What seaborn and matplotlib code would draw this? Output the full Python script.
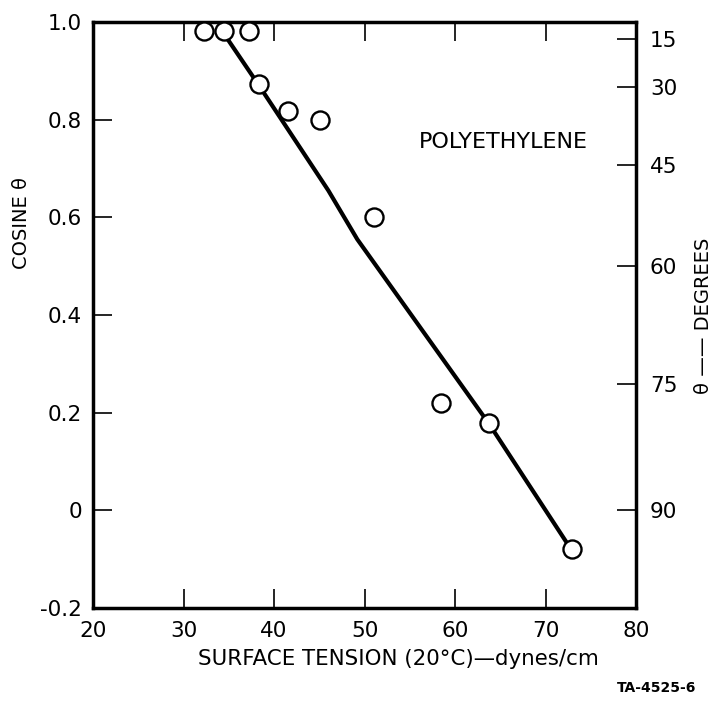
import numpy as np
import pandas as pd
import matplotlib
matplotlib.use("Agg")
import matplotlib.pyplot as plt
import seaborn as sns

# ---- data ----
pts_tension = [32.3, 34.5, 37.2, 38.3, 41.6, 45.1, 51.0, 58.5, 63.8, 72.9]
pts_cosine = [0.982, 0.982, 0.982, 0.873, 0.818, 0.800, 0.600, 0.220, 0.178, -0.080]

line_tension = [34.5, 38.3, 46.0, 49.2, 63.8, 72.9]
line_cosine = [0.975, 0.871, 0.655, 0.555, 0.176, -0.082]

x_ticks = [20, 30, 40, 50, 60, 70, 80]
y_ticks = [-0.2, 0, 0.2, 0.4, 0.6, 0.8, 1.0]
y_ticklabels = ["-0.2", "0", "0.2", "0.4", "0.6", "0.8", "1.0"]
degree_ticks = [15, 30, 45, 60, 75, 90]

sns.set_theme(style="ticks")
plt.rcParams["font.family"] = ["DejaVu Sans"]
plt.rcParams["text.color"] = "black"
plt.rcParams["axes.labelcolor"] = "black"

fig = plt.figure(figsize=(7.16, 7.02), dpi=100)
ax = fig.add_axes([0.1299, 0.1339, 0.7584, 0.8348])

pts = pd.DataFrame({"tension": pts_tension, "cosine": pts_cosine})
fit = pd.DataFrame({"tension": line_tension, "cosine": line_cosine})

sns.lineplot(data=fit, x="tension", y="cosine", ax=ax, color="black",
             linewidth=3.0, sort=False, estimator=None, zorder=2)
sns.scatterplot(data=pts, x="tension", y="cosine", ax=ax, s=13**2,
                facecolor="white", edgecolor="black", linewidth=1.7,
                marker="o", zorder=3, clip_on=False)

ax.set_xlim(20, 80)
ax.set_ylim(-0.2, 1.0)
ax.set_xticks(x_ticks)
ax.set_xticklabels([str(v) for v in x_ticks])
ax.set_yticks(y_ticks)
ax.set_yticklabels(y_ticklabels)

for s in ax.spines.values():
    s.set_linewidth(2.5)
    s.set_color("black")
    s.set_visible(True)

ax.tick_params(axis="both", direction="in", length=14, width=1.2,
               labelsize=15.5, colors="black", pad=8)
ax.tick_params(axis="x", top=True, labeltop=False, pad=9)

ax.set_xlabel("SURFACE TENSION (20°C)—dynes/cm", fontsize=15.4, color="black")
ax.xaxis.set_label_coords(0.562, -0.087)
ax.xaxis.label.set_va("center")
ax.set_ylabel("COSINE θ", fontsize=14, color="black")
ax.yaxis.set_label_coords(-0.131, 0.657)
ax.yaxis.label.set_va("center")

ax2 = ax.twinx()
ax2.set_ylim(-0.2, 1.0)
ax2.set_yticks(np.cos(np.radians(degree_ticks)))
ax2.set_yticklabels([str(d) for d in degree_ticks])
ax2.tick_params(axis="y", direction="in", length=14, width=1.2,
                labelsize=15.5, colors="black", pad=10)
for s in ax2.spines.values():
    s.set_visible(False)
ax2.set_ylabel("θ —— DEGREES", fontsize=14, rotation=90, color="black")
ax2.yaxis.set_label_coords(1.125, 0.498)
ax2.yaxis.label.set_va("center")
ax2.yaxis.label.set_ha("center")

ax.text(65.3, 0.754, "POLYETHYLENE", fontsize=16, ha="center", va="center",
        color="black")

fig.text(0.973, 0.02, "TA-4525-6", fontsize=10, ha="right", va="center",
         color="black", fontweight="bold")

fig.savefig("out.png", dpi=100, facecolor="white")
